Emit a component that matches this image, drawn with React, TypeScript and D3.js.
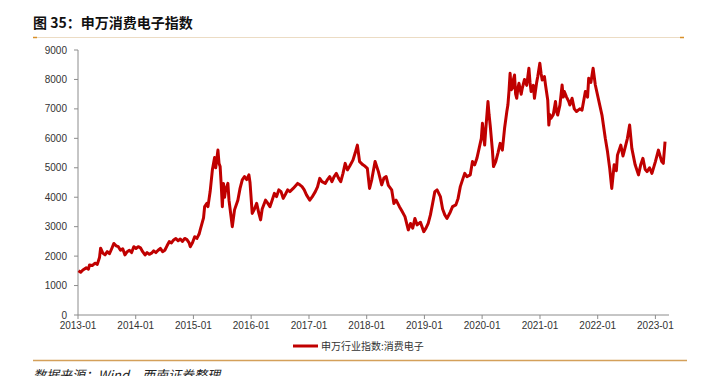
import React from "react";
import * as d3 from "d3";

const dates: string[] = [
"2013-01-04","2013-01-18","2013-02-01","2013-02-22","2013-03-08","2013-03-15","2013-04-01","2013-04-19","2013-05-03","2013-05-17","2013-05-24","2013-06-07","2013-06-21","2013-07-05","2013-07-19","2013-08-02","2013-08-16","2013-08-30","2013-09-13","2013-09-27","2013-10-11","2013-10-25","2013-11-08","2013-11-22","2013-12-06","2013-12-20",
"2014-01-03","2014-01-17","2014-01-31","2014-02-14","2014-03-01","2014-03-14","2014-03-28","2014-04-11","2014-04-25","2014-05-09","2014-05-23","2014-06-06","2014-06-20","2014-07-04","2014-07-18","2014-08-01","2014-08-15","2014-08-29","2014-09-12","2014-09-26","2014-10-10","2014-10-24","2014-11-07","2014-11-21","2014-12-05","2014-12-12","2014-12-26",
"2015-01-09","2015-01-23","2015-02-06","2015-02-13","2015-03-06","2015-03-13","2015-03-27","2015-04-03","2015-04-17","2015-05-01","2015-05-15","2015-05-22","2015-06-05","2015-06-12","2015-06-19","2015-06-26","2015-07-03","2015-07-10","2015-07-17","2015-07-24","2015-08-07","2015-08-14","2015-08-21","2015-09-04","2015-09-18","2015-10-09","2015-10-23","2015-11-06","2015-11-20","2015-12-04","2015-12-18","2015-12-25",
"2016-01-08","2016-01-22","2016-02-05","2016-02-19","2016-03-01","2016-03-11","2016-04-01","2016-04-15","2016-04-29","2016-05-13","2016-05-27","2016-06-10","2016-06-24","2016-07-08","2016-07-22","2016-08-05","2016-08-19","2016-09-02","2016-09-23","2016-10-21","2016-11-04","2016-11-18","2016-12-02","2016-12-16",
"2017-01-06","2017-01-20","2017-02-10","2017-02-24","2017-03-10","2017-03-24","2017-04-14","2017-04-28","2017-05-12","2017-05-26","2017-06-09","2017-06-23","2017-07-07","2017-07-21","2017-08-04","2017-08-18","2017-09-01","2017-09-15","2017-10-06","2017-10-20","2017-11-03","2017-11-17","2017-12-08","2017-12-22",
"2018-01-05","2018-01-19","2018-02-02","2018-02-23","2018-03-16","2018-04-06","2018-04-20","2018-05-04","2018-05-18","2018-06-08","2018-06-22","2018-07-06","2018-07-27","2018-08-10","2018-08-31","2018-09-21","2018-10-05","2018-10-19","2018-11-02","2018-11-16","2018-12-07","2018-12-28",
"2019-01-11","2019-01-25","2019-02-08","2019-02-22","2019-03-08","2019-03-22","2019-04-12","2019-04-26","2019-05-10","2019-05-24","2019-06-14","2019-06-28","2019-07-19","2019-08-02","2019-08-16","2019-08-30","2019-09-13","2019-09-27","2019-10-18","2019-11-01","2019-11-15","2019-11-29","2019-12-13","2019-12-27",
"2020-01-03","2020-01-10","2020-01-17","2020-01-24","2020-02-07","2020-02-14","2020-02-21","2020-03-06","2020-03-13","2020-03-27","2020-04-10","2020-04-24","2020-05-08","2020-05-22","2020-06-05","2020-06-12","2020-06-19","2020-06-26","2020-07-03","2020-07-10","2020-07-17","2020-07-24","2020-07-31","2020-08-07","2020-08-14","2020-08-21","2020-09-04","2020-09-11","2020-09-25","2020-10-09","2020-10-23","2020-10-30","2020-11-06","2020-11-20","2020-11-27","2020-12-11","2020-12-18","2020-12-31",
"2021-01-08","2021-01-15","2021-01-29","2021-02-05","2021-02-19","2021-02-26","2021-03-05","2021-03-12","2021-03-26","2021-04-09","2021-04-16","2021-04-23","2021-05-07","2021-05-21","2021-05-28","2021-06-04","2021-06-18","2021-07-02","2021-07-09","2021-07-23","2021-08-06","2021-08-20","2021-09-10","2021-09-24","2021-10-15","2021-10-29","2021-11-05","2021-11-19","2021-12-03","2021-12-17",
"2022-01-14","2022-01-28","2022-02-18","2022-03-04","2022-03-18","2022-03-31","2022-04-15","2022-04-29","2022-05-06","2022-05-27","2022-06-10","2022-06-17","2022-07-08","2022-07-22","2022-08-05","2022-08-26","2022-09-16","2022-09-30","2022-10-14","2022-10-28","2022-11-09","2022-11-25","2022-12-10",
"2023-01-01","2023-01-20","2023-02-10","2023-02-20","2023-03-03"
];

const values: number[] = [
1500,1450,1530,1600,1560,1700,1680,1760,1720,1950,2270,2100,2040,2150,2080,2250,2430,2350,2320,2200,2250,2040,2150,2200,2120,2320,
2260,2320,2280,2150,2040,2120,2060,2100,2180,2120,2200,2260,2150,2200,2350,2490,2450,2550,2600,2520,2580,2500,2600,2560,2450,2320,2450,
2660,2600,2750,2890,3300,3680,3790,3680,4200,4930,5350,5000,5600,5150,5040,4400,3680,4470,4000,4250,4470,3900,3600,3000,3570,3900,4300,4590,4700,4600,4760,4500,
3450,3600,3790,3450,3230,3600,3900,3800,3680,3900,4130,4020,4250,4190,3960,4100,4250,4190,4300,4470,4420,4360,4250,4080,
3900,4000,4190,4350,4640,4530,4470,4600,4700,4530,4700,4810,4650,4530,4810,5150,4930,5050,5260,5500,5770,5210,5100,5050,
4980,4300,4600,5210,4870,4420,4650,4700,4400,4250,3790,3900,3680,3550,3340,2890,3110,2950,3280,3060,3150,2830,
2950,3110,3400,3790,4190,4250,4020,3600,3400,3280,3500,3680,3740,3960,4360,4590,4810,4700,4760,5210,5100,5320,5660,6000,
6510,6100,5770,6300,7250,6800,6450,5600,5040,5210,5500,5830,5600,6340,6900,7130,7600,8210,7650,7700,8000,8150,7500,7360,7700,7870,7500,7700,8000,7800,8380,7900,7590,7800,7360,7900,8100,8550,
8200,7980,8100,7810,7300,6450,6800,6680,6800,7250,6900,6790,7130,7810,7400,7590,7400,7250,7130,7360,7000,6910,7000,6960,7590,7400,8040,7900,8380,7810,
7130,6790,6000,5550,4980,4300,5100,4900,5430,5770,5400,5550,6000,6450,5660,5100,4760,5100,5320,4950,4870,5000,4810,
5210,5600,5210,5150,5890
];

const yTicks: number[] = [0,1000,2000,3000,4000,5000,6000,7000,8000,9000];
const xTickYears: number[] = [2013,2014,2015,2016,2017,2018,2019,2020,2021,2022,2023];

const title = "图 35：申万消费电子指数";
const seriesName = "申万行业指数:消费电子";
const source = "数据来源：Wind，西南证券整理";

export default function App() {
  const W = 718, H = 376;
  const left = 78, right = 669, top = 50, bottom = 315;
  const parse = d3.timeParse("%Y-%m-%d");
  const pts = dates.map((d, i) => ({ t: parse(d) as Date, v: values[i] }));
  const x = d3.scaleTime()
    .domain([new Date(2013, 0, 1), new Date(2023, 2, 28)])
    .range([left, right]);
  const y = d3.scaleLinear().domain([0, 9000]).range([bottom, top]);
  const line = d3.line<{ t: Date; v: number }>().x(p => x(p.t)).y(p => y(p.v)).curve(d3.curveLinear);
  const fmt = d3.timeFormat("%Y-%m");
  const axisColor = "#8c8c8c";
  const font = "'Liberation Sans', Arial, sans-serif";

  return (
    <svg width={W} height={H} style={{ position: "absolute", left: 0, top: 0, background: "#fff" }}>
      <text x={33} y={28} fontFamily="'Noto Sans CJK SC', sans-serif" fontWeight={700} fontSize={14} fill="#111">{title}</text>
      <line x1={33} x2={684} y1={37.5} y2={37.5} stroke="#ecdcc4" strokeWidth={1} />
      <line x1={33} x2={37} y1={37.5} y2={37.5} stroke="#d9902a" strokeWidth={1.5} />
      <line x1={680} x2={684} y1={37.5} y2={37.5} stroke="#d9902a" strokeWidth={1.5} />

      <line x1={left} x2={left} y1={top} y2={bottom} stroke={axisColor} strokeWidth={1} />
      {yTicks.map(v => (
        <g key={v}>
          <line x1={left - 4} x2={left} y1={y(v)} y2={y(v)} stroke={axisColor} />
          <text x={left - 11} y={y(v) + 3.5} textAnchor="end" fontFamily={font} fontSize={10} fill="#333">{v}</text>
        </g>
      ))}
      <line x1={left} x2={right} y1={bottom} y2={bottom} stroke={axisColor} strokeWidth={1} />
      {xTickYears.map(yr => {
        const d = new Date(yr, 0, 1);
        return (
          <g key={yr}>
            <line x1={x(d)} x2={x(d)} y1={bottom} y2={bottom + 4} stroke={axisColor} />
            <text x={x(d)} y={bottom + 14} textAnchor="middle" fontFamily={font} fontSize={10} fill="#333">{fmt(d)}</text>
          </g>
        );
      })}

      <path d={line(pts) || ""} fill="none" stroke="#c00000" strokeWidth={3} strokeLinejoin="round" />

      <line x1={293} x2={318} y1={346} y2={346} stroke="#c00000" strokeWidth={3} />
      <text x={321} y={349.5} fontFamily="'Noto Sans CJK SC', sans-serif" fontSize={10} fill="#333">{seriesName}</text>

      <line x1={33} x2={687} y1={360.5} y2={360.5} stroke="#d4a05a" strokeWidth={1.5} />
      <text x={33} y={380} fontFamily="'Noto Sans CJK SC', sans-serif" fontStyle="italic" fontSize={13} fill="#222">{source}</text>
    </svg>
  );
}
